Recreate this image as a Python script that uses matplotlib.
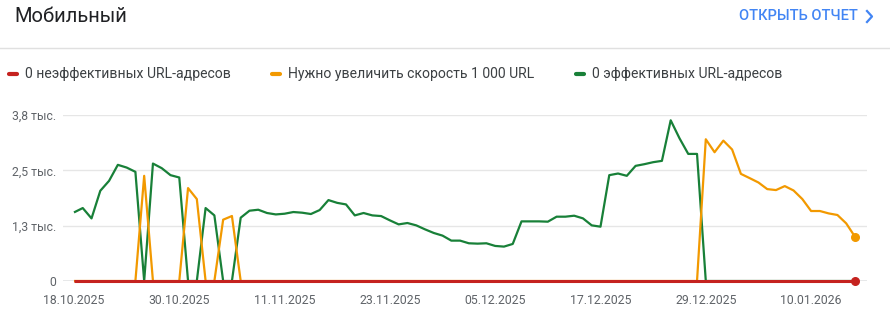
import matplotlib
matplotlib.use("Agg")
import matplotlib.pyplot as plt
import matplotlib.dates as mdates
from matplotlib.lines import Line2D
import pandas as pd

plt.rcParams['font.family'] = ['Roboto', 'DejaVu Sans']

# data (daily, 18.10.2025 - 15.01.2026)
start_date = "2025-10-18"

good = [1549, 1648, 1414, 2038, 2263, 2624, 2563, 2466, 0, 2653,
        2549, 2391, 2338, 0, 0, 1648, 1482, 0, 0, 1430,
        1588, 1610, 1536, 1504, 1520, 1558, 1543, 1513, 1603, 1828,
        1765, 1730, 1482, 1536, 1482, 1467, 1370, 1279, 1310, 1257,
        1167, 1085, 1025, 912, 912, 852, 844, 852, 792, 777,
        837, 1347, 1347, 1347, 1340, 1453, 1453, 1475, 1415, 1257,
        1227, 2391, 2428, 2376, 2601, 2639, 2684, 2714, 3630, 3225,
        2871, 2871, 0, 0, 0, 0, 0, 0, 0, 0,
        0, 0, 0, 0, 0, 0, 0, 0, 0, 0]

needs_work = [0, 0, 0, 0, 0, 0, 0, 0, 2376, 0,
              0, 0, 0, 2099, 1851, 0, 0, 1385, 1468, 0,
              0, 0, 0, 0, 0, 0, 0, 0, 0, 0,
              0, 0, 0, 0, 0, 0, 0, 0, 0, 0,
              0, 0, 0, 0, 0, 0, 0, 0, 0, 0,
              0, 0, 0, 0, 0, 0, 0, 0, 0, 0,
              0, 0, 0, 0, 0, 0, 0, 0, 0, 0,
              0, 0, 3202, 2909, 3171, 2970, 2420, 2324, 2225, 2076,
              2054, 2144, 2045, 1851, 1581, 1581, 1527, 1491, 1302, 1000]

poor = [0] * 90

y_ticks = [0, 1250, 2500, 3750]
y_tick_labels = ["0", "1,3 тыс.", "2,5 тыс.", "3,8 тыс."]
x_tick_dates = ["2025-10-18", "2025-10-30", "2025-11-11", "2025-11-23",
                "2025-12-05", "2025-12-17", "2025-12-29", "2026-01-10"]

legend_labels = ["0 неэффективных URL-адресов",
                 "Нужно увеличить скорость 1 000 URL",
                 "0 эффективных URL-адресов"]

RED = "#c5221f"
ORANGE = "#f29900"
GREEN = "#188038"

dates = pd.date_range(start_date, periods=len(good), freq="D")

fig = plt.figure(figsize=(8.9, 3.28), dpi=100)
ax = fig.add_axes([63 / 890, 47 / 328, 804 / 890, 166 / 328])

ax.plot(dates, good, color=GREEN, lw=1.6, zorder=3, clip_on=False,
        solid_capstyle='butt')
ax.plot(dates, needs_work, color=ORANGE, lw=1.6, zorder=4, clip_on=False,
        solid_capstyle='butt')
ax.plot(dates, poor, color=RED, lw=2.2, zorder=5, clip_on=False,
        solid_capstyle='butt')
ax.scatter([dates[-1]], [needs_work[-1]], s=30, color=ORANGE, zorder=6, clip_on=False)
ax.scatter([dates[-1]], [poor[-1]], s=30, color=RED, zorder=7, clip_on=False)

ax.set_ylim(0, 3750)
ax.set_xlim(dates[0] - pd.Timedelta(days=1.25), dates[-1] + pd.Timedelta(days=1.37))

ax.set_yticks(y_ticks)
ax.set_yticklabels(y_tick_labels)
ax.set_xticks(pd.to_datetime(x_tick_dates))
ax.xaxis.set_major_formatter(mdates.DateFormatter("%d.%m.%Y"))

ax.grid(axis='y', color="#e6e6e6", lw=1)
ax.axhline(0, color="#9aa0a6", lw=1, zorder=2)
for s in ax.spines.values():
    s.set_visible(False)
ax.tick_params(axis='both', length=0, labelsize=8.8, labelcolor="#5f6368")
ax.tick_params(axis='y', pad=5)
ax.tick_params(axis='x', pad=9)

# header
fig.text(14 / 890, 1 - 16 / 328, "Мобильный", fontsize=14.5, color="#202124",
         va='center', ha='left')
fig.text(858 / 890, 1 - 16 / 328, "ОТКРЫТЬ ОТЧЕТ", fontsize=10.5, color="#4285f4",
         va='center', ha='right', fontweight='medium')
fig.add_artist(Line2D([867 / 890, 872 / 890, 867 / 890],
                      [1 - 11 / 328, 1 - 16.5 / 328, 1 - 22 / 328],
                      color="#4285f4", lw=1.6))
fig.add_artist(Line2D([0, 1], [1 - 47.5 / 328, 1 - 47.5 / 328], color="#e0e0e0", lw=1))

# legend
leg_x = [7, 270, 574]
for x0, lab, col in zip(leg_x, legend_labels, [RED, ORANGE, GREEN]):
    fig.add_artist(Line2D([(x0 + 2) / 890, (x0 + 10) / 890],
                          [1 - 74 / 328, 1 - 74 / 328],
                          color=col, lw=3, solid_capstyle='round'))
    fig.text((x0 + 18) / 890, 1 - 74 / 328, lab, fontsize=10.1, color="#3c4043",
             va='center', ha='left')

fig.savefig("out.png", dpi=100)
